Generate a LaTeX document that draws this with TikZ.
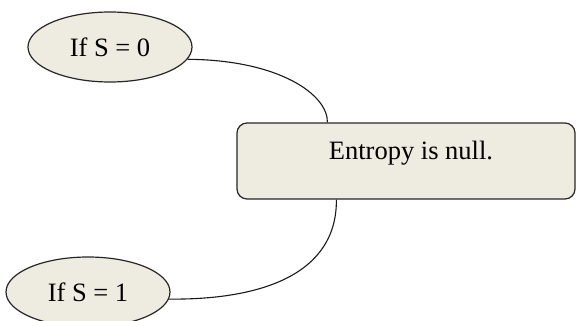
\documentclass[tikz,border=0pt]{standalone}
\usepackage{fontspec}
\setmainfont{Liberation Serif}
\usetikzlibrary{shapes.geometric}
\definecolor{tanfill}{HTML}{EEECE1}
\begin{document}
\begin{tikzpicture}[x=1pt,y=-1pt,
  oval/.style={ellipse,draw=black!85,fill=tanfill,line width=1.2pt,minimum width=164pt,minimum height=70pt,inner sep=0pt,font=\fontsize{26.5}{30}\selectfont},
  boxstyle/.style={rectangle,rounded corners=10pt,draw=black!85,fill=tanfill,line width=1.2pt,minimum width=338pt,minimum height=76pt,inner sep=0pt},
  lbl/.style={font=\fontsize{26.5}{30}\selectfont,inner sep=0pt},
  conn/.style={draw=black!90,line width=1.1pt}]
\useasboundingbox (0,0) rectangle (576,321);
\node[oval] (e0) at (110,47) {If S = 0};
\node[oval] (e1) at (88,292) {If S = 1};
\node[boxstyle] (box) at (406,161) {};
\node[lbl] (t) at (411,153) {Entropy is null.};
\coordinate (btop) at ([xshift=91pt]box.north west);
\coordinate (bbot) at ([xshift=100pt]box.south west);
\draw[conn] (e0.-9) .. controls (280,60) and (328,95) .. (btop);
\draw[conn] (bbot) .. controls (337,275) and (260,300) .. (e1.-5);
\end{tikzpicture}
\end{document}
